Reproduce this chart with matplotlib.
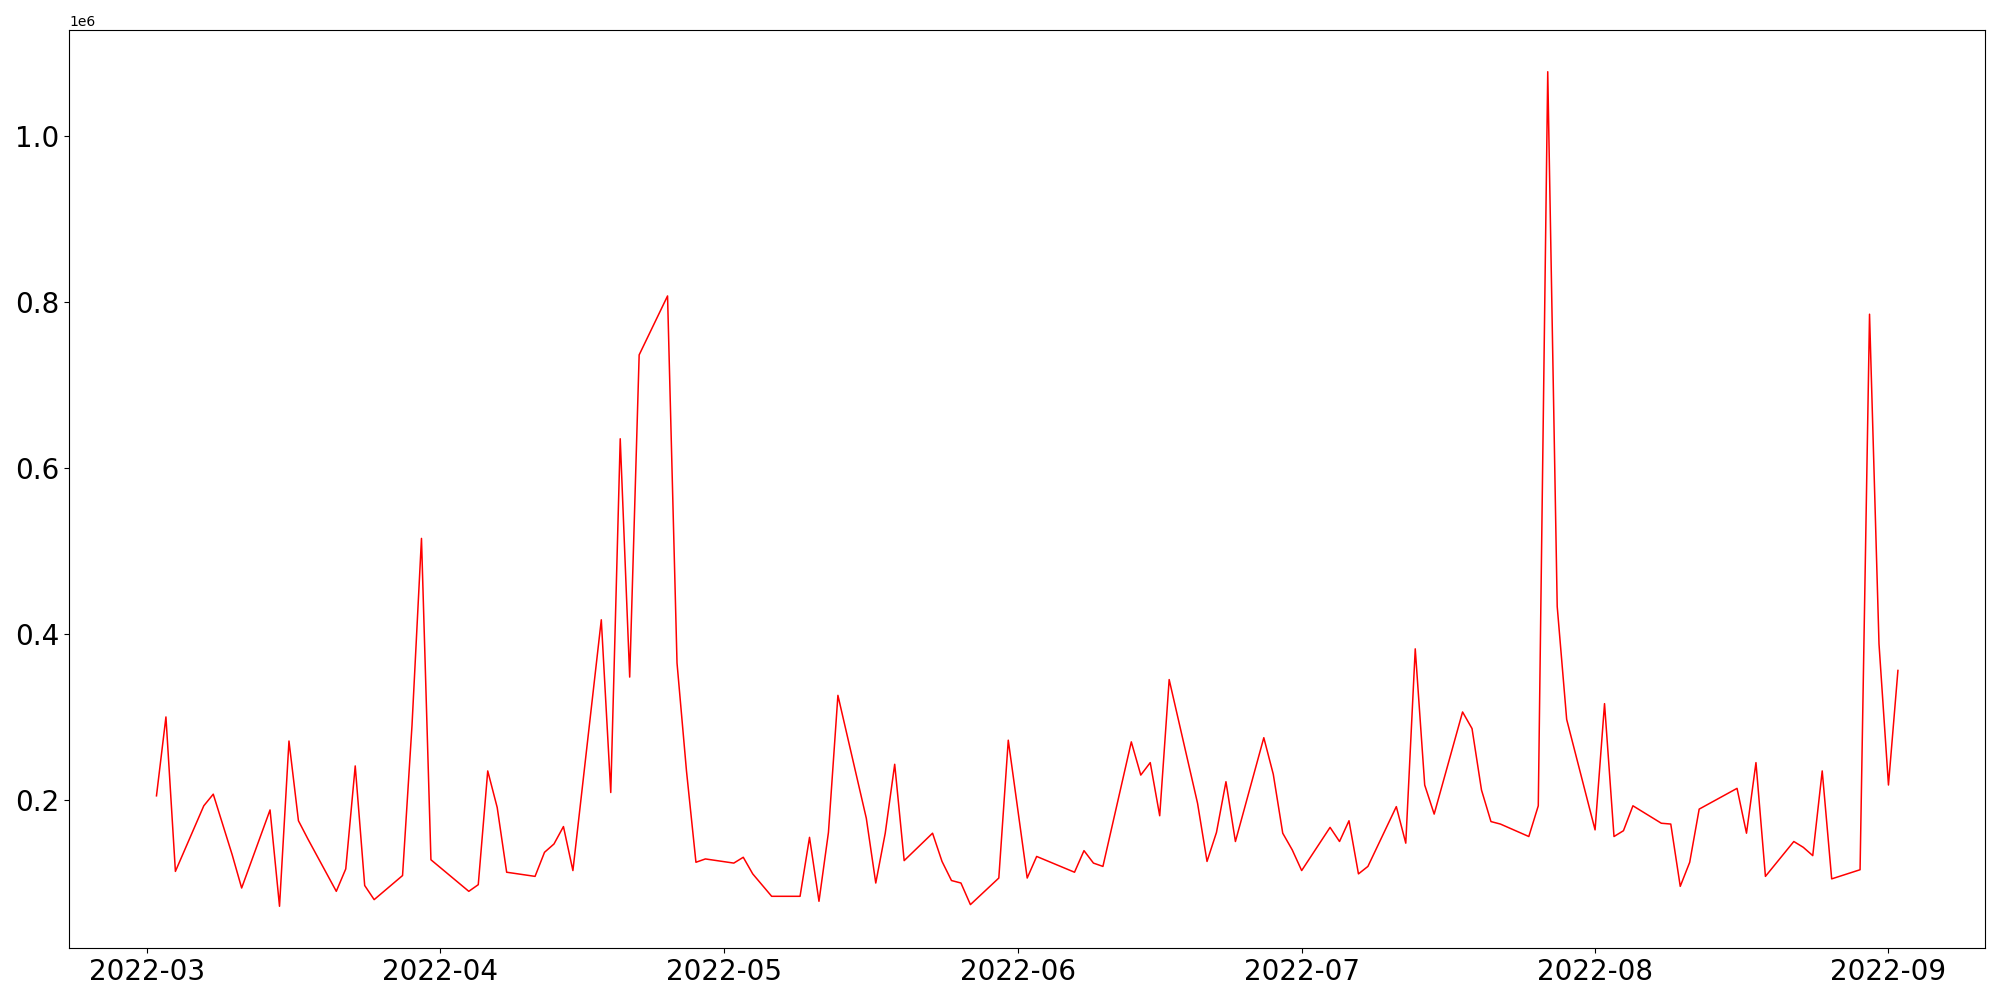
#!/usr/bin/env python3
"""Daily volume line chart, Mar-Sep 2022."""

import pandas as pd
import matplotlib

matplotlib.use("Agg")
import matplotlib.pyplot as plt

# ---------------------------------------------------------------------------
# Data
# ---------------------------------------------------------------------------

DATES = [
    "2022-03-02", "2022-03-03", "2022-03-04", "2022-03-07", "2022-03-08",
    "2022-03-10", "2022-03-11", "2022-03-14", "2022-03-15", "2022-03-16",
    "2022-03-17", "2022-03-18", "2022-03-21", "2022-03-22", "2022-03-23",
    "2022-03-24", "2022-03-25", "2022-03-28", "2022-03-29", "2022-03-30",
    "2022-03-31", "2022-04-04", "2022-04-05", "2022-04-06", "2022-04-07",
    "2022-04-08", "2022-04-11", "2022-04-12", "2022-04-13", "2022-04-14",
    "2022-04-15", "2022-04-18", "2022-04-19", "2022-04-20", "2022-04-21",
    "2022-04-22", "2022-04-25", "2022-04-26", "2022-04-27", "2022-04-28",
    "2022-04-29", "2022-05-02", "2022-05-03", "2022-05-04", "2022-05-06",
    "2022-05-09", "2022-05-10", "2022-05-11", "2022-05-12", "2022-05-13",
    "2022-05-16", "2022-05-17", "2022-05-18", "2022-05-19", "2022-05-20",
    "2022-05-23", "2022-05-24", "2022-05-25", "2022-05-26", "2022-05-27",
    "2022-05-30", "2022-05-31", "2022-06-02", "2022-06-03", "2022-06-07",
    "2022-06-08", "2022-06-09", "2022-06-10", "2022-06-13", "2022-06-14",
    "2022-06-15", "2022-06-16", "2022-06-17", "2022-06-20", "2022-06-21",
    "2022-06-22", "2022-06-23", "2022-06-24", "2022-06-27", "2022-06-28",
    "2022-06-29", "2022-06-30", "2022-07-01", "2022-07-04", "2022-07-05",
    "2022-07-06", "2022-07-07", "2022-07-08", "2022-07-11", "2022-07-12",
    "2022-07-13", "2022-07-14", "2022-07-15", "2022-07-18", "2022-07-19",
    "2022-07-20", "2022-07-21", "2022-07-22", "2022-07-25", "2022-07-26",
    "2022-07-27", "2022-07-28", "2022-07-29", "2022-08-01", "2022-08-02",
    "2022-08-03", "2022-08-04", "2022-08-05", "2022-08-08", "2022-08-09",
    "2022-08-10", "2022-08-11", "2022-08-12", "2022-08-16", "2022-08-17",
    "2022-08-18", "2022-08-19", "2022-08-22", "2022-08-23", "2022-08-24",
    "2022-08-25", "2022-08-26", "2022-08-29", "2022-08-30", "2022-08-31",
    "2022-09-01", "2022-09-02",
]

VOLUME = [
    205000, 300000, 114000, 193000, 207000,
    134000, 94000, 188000, 72000, 271000,
    175000, 153000, 90000, 117000, 241000,
    97000, 80000, 109000, 290000, 515000,
    128000, 90000, 98000, 235000, 191000,
    113000, 108000, 137000, 147000, 168000,
    115000, 417000, 209000, 635000, 348000,
    736000, 807000, 365000, 235000, 125000,
    129000, 124000, 131000, 111000, 84000,
    84000, 155000, 78000, 161000, 326000,
    178000, 100000, 160000, 243000, 127000,
    160000, 126000, 103000, 100000, 74000,
    106000, 272000, 106000, 132000, 113000,
    139000, 124000, 120000, 270000, 230000,
    245000, 181000, 345000, 196000, 126000,
    161000, 222000, 150000, 275000, 231000,
    160000, 140000, 115000, 167000, 150000,
    175000, 111000, 120000, 192000, 148000,
    382000, 218000, 183000, 306000, 286000,
    212000, 174000, 171000, 156000, 193000,
    1077000, 433000, 297000, 164000, 316000,
    156000, 163000, 193000, 172000, 171000,
    96000, 125000, 189000, 214000, 160000,
    245000, 108000, 150000, 143000, 133000,
    235000, 105000, 116000, 785000, 388000,
    218000, 356000,
]


def main():
    dates = pd.to_datetime(DATES)

    fig = plt.figure(figsize=(20, 10), dpi=100)
    ax = fig.add_axes([0.0347, 0.052, 0.9578, 0.918])
    ax.plot(dates, VOLUME, color="red", linewidth=1.1)

    ax.tick_params(axis="both", labelsize=20)

    fig.savefig("out.png", dpi=100)
    plt.close(fig)


if __name__ == "__main__":
    main()
